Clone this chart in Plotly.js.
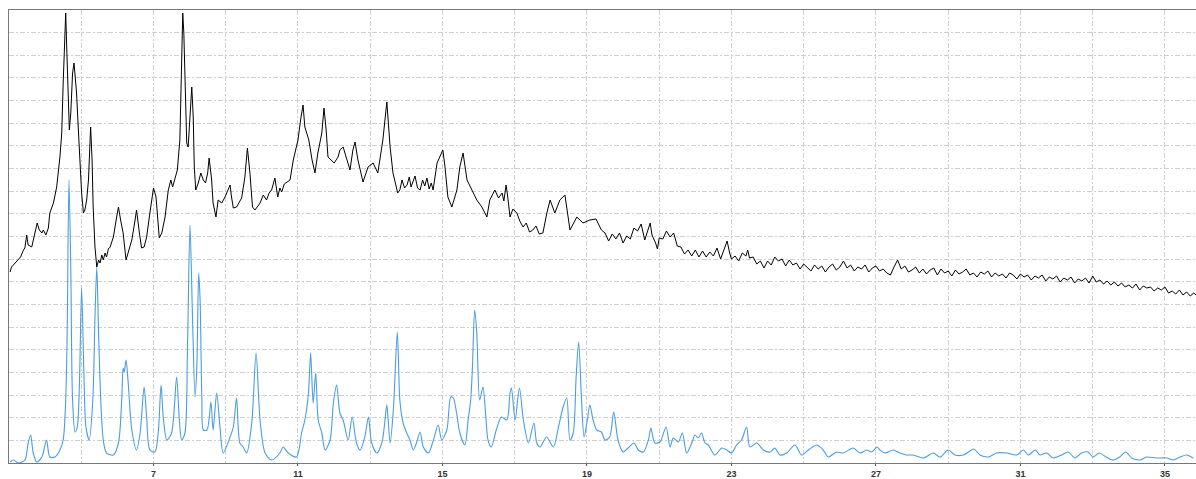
<!DOCTYPE html>
<html>
<head>
<meta charset="utf-8">
<script src="https://cdn.plot.ly/plotly-3.0.1.min.js"></script>
<style>
  html, body { margin: 0; padding: 0; background: #ffffff; }
  #chart { width: 1196px; height: 479px; }
</style>
</head>
<body>
<div id="chart"></div>
<script>
// 2-theta (degrees) and intensity (arbitrary units)
const blackTheta = [
  3.03,3.07,3.17,3.26,3.32,3.40,3.44,3.49,3.53,3.63,3.67,3.72,3.78,3.84,3.91,3.95,4.02,4.09,4.13,4.23,
  4.32,4.41,4.46,4.50,4.57,4.60,4.64,4.67,4.71,4.76,4.80,4.84,4.87,4.92,4.97,5.01,5.06,5.10,5.15,5.20,
  5.26,5.30,5.33,5.38,5.43,5.48,5.52,5.57,5.61,5.66,5.70,5.75,5.80,5.85,5.89,5.98,6.03,6.09,6.16,6.24,
  6.30,6.40,6.49,6.53,6.61,6.67,6.74,6.81,6.90,7.00,7.07,7.11,7.16,7.23,7.32,7.41,7.48,7.53,7.60,7.66,
  7.73,7.78,7.81,7.84,7.88,7.92,7.96,8.01,8.06,8.10,8.13,8.17,8.24,8.31,8.38,8.44,8.50,8.54,8.61,8.65,
  8.73,8.79,8.89,8.98,9.12,9.16,9.21,9.30,9.44,9.53,9.60,9.67,9.74,9.81,9.95,10.04,10.13,10.20,10.27,10.36,
  10.44,10.50,10.55,10.62,10.69,10.78,10.87,10.96,11.00,11.08,11.14,11.19,11.25,11.30,11.39,11.47,11.55,11.66,11.72,11.78,
  11.83,11.91,12.00,12.11,12.16,12.25,12.36,12.44,12.52,12.58,12.66,12.80,12.94,13.08,13.21,13.35,13.46,13.55,13.63,13.70,
  13.76,13.82,13.88,13.95,14.02,14.08,14.13,14.18,14.24,14.31,14.38,14.45,14.51,14.57,14.63,14.69,14.74,14.85,14.93,15.01,
  15.07,15.15,15.26,15.40,15.48,15.57,15.68,15.82,15.95,16.09,16.23,16.31,16.45,16.55,16.65,16.70,16.76,16.80,16.87,16.95,
  17.06,17.14,17.23,17.32,17.41,17.50,17.59,17.68,17.78,17.89,17.98,18.11,18.25,18.39,18.53,18.72,18.89,19.08,19.25,19.40,
  19.50,19.60,19.70,19.80,19.90,20.00,20.10,20.20,20.30,20.40,20.50,20.60,20.70,20.75,20.80,20.90,20.95,21.00,21.10,21.20,
  21.30,21.40,21.50,21.60,21.70,21.80,21.90,22.00,22.10,22.20,22.30,22.40,22.50,22.60,22.70,22.80,22.88,22.95,23.00,23.10,
  23.20,23.30,23.40,23.45,23.50,23.60,23.70,23.80,23.90,24.00,24.10,24.20,24.30,24.40,24.50,24.60,24.70,24.80,
  24.90,25.00,25.10,25.20,25.30,25.40,25.50,25.60,25.70,25.80,
  25.90,26.00,26.10,26.20,26.30,26.40,26.50,26.60,26.70,26.80,
  26.90,27.00,27.10,27.20,27.30,27.40,27.50,27.60,27.70,27.80,
  27.90,28.00,28.10,28.20,28.30,28.40,28.50,28.60,28.70,28.80,
  28.90,29.00,29.10,29.20,29.30,29.40,29.50,29.60,29.70,29.80,
  29.90,30.00,30.10,30.20,30.30,30.40,30.50,30.60,30.70,30.80,
  30.90,31.00,31.10,31.20,31.30,31.40,31.50,31.60,31.70,31.80,
  31.90,32.00,32.10,32.20,32.30,32.40,32.50,32.60,32.70,32.80,
  32.90,33.00,33.10,33.20,33.30,33.40,33.50,33.60,33.70,33.80,
  33.90,34.00,34.10,34.20,34.30,34.40,34.50,34.60,34.70,34.80,
  34.90,35.00,35.10,35.20,35.30,35.40,35.50,35.60,35.70,35.80,
  35.86
];
const blackIntensity = [
  191,196,200,203,206,213,215,228,218,216,223,230,240,233,230,233,228,235,250,260,
  276,306,330,380,450,413,363,333,350,390,400,380,370,333,296,270,250,253,263,283,
  336,303,256,216,196,203,200,208,203,210,206,214,216,222,226,246,256,243,230,203,
  210,223,243,253,230,215,216,226,250,275,266,246,225,230,246,273,283,276,286,293,
  323,396,450,430,370,320,316,353,376,346,296,273,280,290,283,280,290,305,283,260,
  246,263,260,266,278,266,255,256,265,286,315,290,256,253,260,268,263,270,273,285,
  266,275,271,279,281,283,303,316,323,345,358,336,330,323,303,290,310,330,355,333,
  306,303,300,306,313,316,303,293,313,321,303,281,296,300,290,323,361,316,290,280,
  270,273,283,275,278,286,276,281,287,275,273,283,277,285,274,280,273,300,306,313,
  296,266,256,273,296,310,283,273,263,256,246,263,273,265,270,262,278,268,246,254,
  250,242,236,240,231,233,237,229,230,250,263,250,263,268,233,246,240,243,244,233,
  230,222,229,224,230,220,227,224,235,232,239,223,234,240,228,220,214,225,224,232,
  226,230,217,216,209,213,207,213,206,212,206,211,207,215,204,214,222,210,204,207,
  202,210,207,213,205,206,199,202,195,202,198,206,202,204,197,203,198,200,
  194,199,195,192,198,194,197,191,196,199,
  193,196,202,195,198,192,196,194,198,191,
  195,197,192,194,190,188,196,203,194,197,
  191,193,196,190,194,189,193,195,188,194,
  190,192,187,193,189,191,194,188,190,186,
  191,189,192,186,190,187,189,185,190,188,
  184,189,186,188,183,187,185,188,182,186,
  184,187,181,185,183,186,180,184,182,185,
  180,187,181,183,179,182,178,181,177,180,
  176,178,175,179,173,177,175,176,172,175,
  173,176,170,172,169,173,168,171,167,170,
  168
];

const blueTheta = [
  3.03,3.12,3.26,3.44,3.53,3.60,3.67,3.77,3.91,4.04,4.13,4.27,4.41,4.50,4.57,4.61,4.66,4.71,4.76,4.83,
  4.89,4.95,5.01,5.08,5.13,5.22,5.32,5.38,5.43,5.48,5.54,5.61,5.70,5.89,6.03,6.12,6.16,6.19,6.24,6.30,
  6.40,6.53,6.63,6.74,6.81,6.90,7.04,7.13,7.21,7.27,7.37,7.50,7.64,7.71,7.78,7.87,7.94,8.01,8.08,8.15,
  8.20,8.25,8.29,8.34,8.38,8.48,8.59,8.65,8.75,8.84,8.93,9.12,9.21,9.30,9.39,9.48,9.58,9.72,9.84,9.95,
  10.09,10.27,10.50,10.59,10.73,10.96,11.10,11.19,11.29,11.35,11.42,11.49,11.56,11.66,11.75,11.89,11.98,12.07,12.16,12.25,
  12.39,12.50,12.62,12.72,12.85,12.95,13.04,13.18,13.32,13.41,13.46,13.55,13.64,13.75,13.82,13.91,14.01,14.10,14.19,14.28,
  14.38,14.47,14.61,14.75,14.88,14.98,15.12,15.23,15.30,15.39,15.48,15.62,15.71,15.78,15.83,15.89,15.95,16.03,16.12,16.20,
  16.26,16.35,16.49,16.63,16.78,16.87,16.91,17.01,17.13,17.24,17.38,17.53,17.61,17.70,17.88,18.07,18.21,18.34,18.44,18.53,
  18.62,18.70,18.77,18.85,18.92,19.01,19.08,19.17,19.27,19.40,19.50,19.63,19.74,19.86,20.00,20.14,20.30,20.42,20.56,20.70,
  20.77,20.88,21.02,21.19,21.30,21.39,21.53,21.64,21.76,21.90,21.99,22.08,22.17,22.27,22.36,22.54,22.73,22.87,23.00,23.14,
  23.28,23.42,23.51,23.70,23.88,24.07,24.20,24.34,24.53,24.76,24.94,25.13,25.36,25.54,25.68,25.91,26.09,26.37,26.56,26.74,
  26.88,27.03,27.11,27.25,27.48,27.66,27.85,28.03,28.31,28.59,28.77,29.00,29.19,29.42,29.56,29.71,29.88,30.11,30.34,30.62,
  30.90,31.08,31.22,31.41,31.54,31.73,31.90,32.14,32.32,32.51,32.69,32.87,33.01,33.18,33.37,33.56,33.75,33.91,34.08,34.31,
  34.49,34.77,35.05,35.23,35.42,35.60,35.78
];
const blueIntensity = [
  1,3,0,3,20,28,10,1,6,23,6,6,13,23,63,130,283,196,63,31,
  36,80,175,80,36,23,63,146,196,130,63,23,10,8,20,63,95,91,103,80,
  33,13,30,76,46,13,11,30,78,46,23,30,86,46,23,30,113,238,146,66,
  96,190,163,63,33,33,61,33,70,36,10,26,36,65,20,16,10,40,110,43,
  10,3,10,16,10,6,30,43,70,110,60,90,43,30,13,23,60,78,50,43,
  23,46,20,13,26,46,20,10,20,43,58,20,53,131,63,40,30,23,13,20,
  31,16,10,23,38,23,33,66,65,50,30,18,43,63,96,153,130,63,76,46,
  23,16,33,46,43,70,75,43,75,43,20,40,20,16,26,16,36,56,65,23,
  30,86,121,63,26,43,58,43,33,31,23,26,51,23,11,15,20,13,11,23,
  35,20,21,36,16,25,21,30,10,20,28,25,30,20,18,8,15,13,10,18,
  23,36,16,20,13,11,15,8,10,18,8,13,18,13,6,11,10,15,10,13,
  11,16,13,10,13,10,8,8,5,10,6,13,8,8,11,14,8,6,10,10,
  8,13,8,13,8,10,5,8,11,5,10,11,6,10,6,3,6,11,5,3,
  6,5,5,3,6,8,5
];

const tickLabels = [7, 11, 15, 19, 23, 27, 31, 35];
const minorGrid = [5, 9, 13, 17, 21, 25, 29, 33];

const gridStyle = { color: '#cfcfcf', dash: '5px,2px,2px,2px' };

const traces = [
  {
    x: blueTheta, y: blueIntensity, type: 'scatter', mode: 'lines',
    line: { color: '#4a9de2', width: 1.1, shape: 'spline', smoothing: 0.8 },
    hoverinfo: 'skip', showlegend: false
  },
  {
    x: blackTheta, y: blackIntensity, type: 'scatter', mode: 'lines',
    line: { color: '#000000', width: 1 }, hoverinfo: 'skip', showlegend: false
  }
];

const layout = {
  width: 1196, height: 479,
  margin: { l: 9, r: 0, t: 10, b: 16, pad: 0 },
  paper_bgcolor: '#ffffff', plot_bgcolor: '#ffffff',
  showlegend: false,
  font: { family: 'Liberation Sans, Arial, sans-serif', size: 9, color: '#333333' },
  xaxis: {
    range: [3, 35.86],
    tickmode: 'array', tickvals: tickLabels, ticktext: tickLabels.map(String),
    ticks: 'outside', ticklen: 2, tickwidth: 1, tickcolor: '#555555',
    ticklabelstandoff: 0,
    tickfont: { family: 'Liberation Sans, Arial, sans-serif', size: 9, color: '#333333', weight: 'bold' },
    showgrid: true, gridcolor: gridStyle.color, griddash: gridStyle.dash, gridwidth: 1,
    minor: { tickmode: 'array', tickvals: minorGrid, showgrid: true, gridcolor: gridStyle.color, griddash: gridStyle.dash, gridwidth: 1, ticks: '' },
    showline: true, linecolor: '#777777', linewidth: 1.2, mirror: true,
    zeroline: false, fixedrange: true
  },
  yaxis: {
    range: [0, 453], tick0: 0, dtick: 22.65,
    showticklabels: false, ticks: '',
    showgrid: true, gridcolor: gridStyle.color, griddash: gridStyle.dash, gridwidth: 1,
    showline: true, linecolor: '#777777', linewidth: 1.2,
    zeroline: false, fixedrange: true
  }
};

Plotly.newPlot('chart', traces, layout, { staticPlot: true, displayModeBar: false });
</script>
</body>
</html>
